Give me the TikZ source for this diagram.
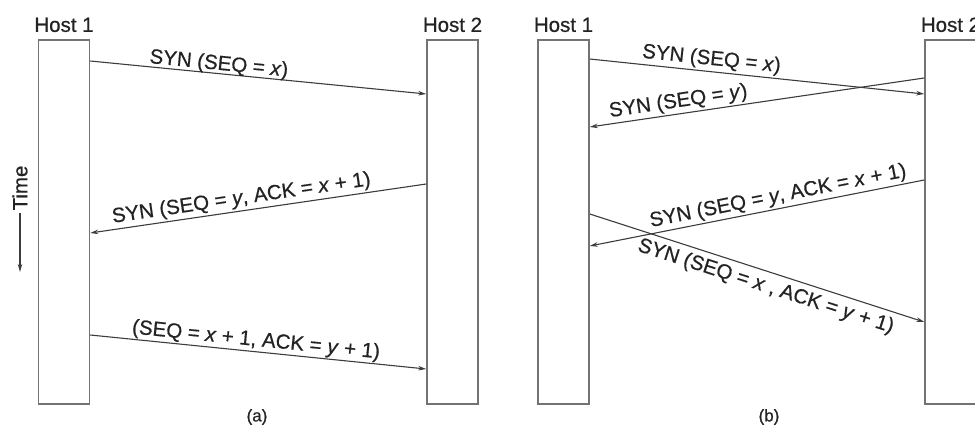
\documentclass[tikz,border=0pt]{standalone}
\usepackage{fontspec}
\setmainfont{Liberation Sans}
\newfontfamily\lblfont{Liberation Sans}[FakeBold=0.6]
\usetikzlibrary{arrows.meta,positioning}

\definecolor{boxgray}{RGB}{115,115,115}
\definecolor{linegray}{RGB}{60,60,60}
\definecolor{textgray}{RGB}{35,35,35}

\tikzset{
    host/.style={draw=boxgray,line width=1.5pt,minimum width=51pt,minimum height=364pt,inner sep=0pt},
    msg/.style={draw=linegray,line width=1.1pt,-{Stealth[length=8pt,width=4.5pt]}},
    lbl/.style={text=textgray,inner sep=2pt,font=\lblfont\fontsize{20.5}{24}\selectfont},
}

\begin{document}
\begin{tikzpicture}[x=1pt,y=-1pt]
    \useasboundingbox (0,0) rectangle (975,427);

    % (a) normal set-up
    \node[host] (ha1) at (64,222) {};
    \node[host] (ha2) at (452.5,222) {};
    \node[lbl,inner sep=0pt,above=7pt of ha1] (na1) {Host 1};
    \node[lbl,inner sep=0pt,above=7pt of ha2] (na2) {Host 2};
    \draw[msg] (ha1.east |- 0,61) -- node[lbl,sloped,above=-3pt,pos=.38] (ma1) {SYN (SEQ = \textit{x})} (ha2.west |- 0,94);
    \draw[msg] (ha2.west |- 0,184) -- node[lbl,sloped,above,pos=.545] (ma2) {SYN (SEQ = \textit{y}, ACK = \textit{x} + 1)} (ha1.east |- 0,233);
    \draw[msg] (ha1.east |- 0,335) -- node[lbl,sloped,above=-1pt,pos=.49] (ma3) {(SEQ = \textit{x} + 1, ACK = \textit{y} + 1)} (ha2.west |- 0,369);
    \node[lbl,rotate=90] (tm) at (20,188) {Time};
    \coordinate (tend) at (20,272);
    \draw[msg] (tm.west) -- (tend);
    \node[lbl,font=\lblfont\fontsize{17}{20}\selectfont] (capa) at (257,417) {(a)};

    % (b) simultaneous open
    \node[host] (hb1) at (563.5,222) {};
    \node[host] (hb2) at (950.5,222) {};
    \node[lbl,inner sep=0pt,above=7pt of hb1] (nb1) {Host 1};
    \node[lbl,inner sep=0pt,above=7pt of hb2] (nb2) {Host 2};
    \draw[msg] (hb1.east |- 0,59) -- node[lbl,sloped,above,pos=.36] (mb1) {SYN (SEQ = \textit{x})} (hb2.west |- 0,94);
    \draw[msg] (hb2.west |- 0,78) -- node[lbl,sloped,above,pos=.73] (mb2) {SYN (SEQ = \textit{y})} (hb1.east |- 0,127);
    \draw[msg] (hb2.west |- 0,180) -- node[lbl,sloped,above,pos=.43] (mb3) {SYN (SEQ = \textit{y}, ACK = \textit{x} + 1)} (hb1.east |- 0,246);
    \draw[msg] (hb1.east |- 0,214) -- node[lbl,sloped,below=3pt,pos=.54] (mb4) {SYN (SEQ = \textit{x} , ACK = \textit{y} + 1)} (hb2.west |- 0,322);
    \node[lbl,font=\lblfont\fontsize{17}{20}\selectfont] (capb) at (769,417) {(b)};
\end{tikzpicture}
\end{document}
